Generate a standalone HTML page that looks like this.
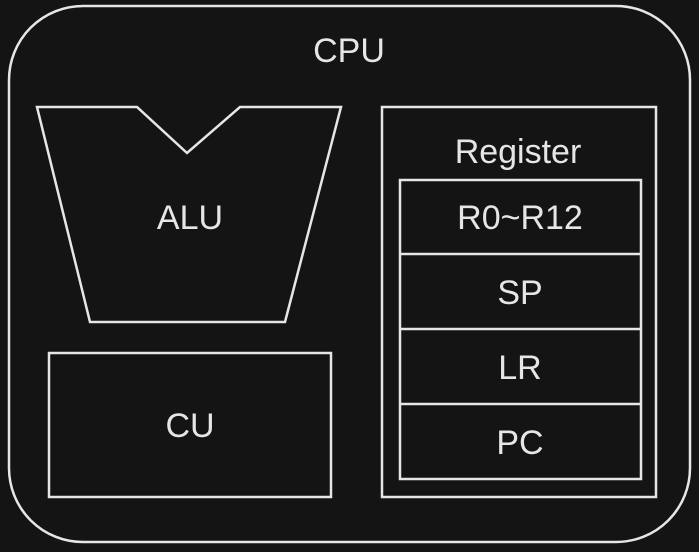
<!DOCTYPE html>
<html><head><style>
html,body{margin:0;padding:0;background:#141414;}
svg{display:block}
text{font-family:"Liberation Sans",sans-serif;font-size:34px;fill:#e6e6e6;text-anchor:middle}
</style></head><body>
<svg width="699" height="552" viewBox="0 0 699 552">
<rect x="0" y="0" width="699" height="552" fill="#141414"/>
<g fill="none" stroke="#e6e6e6" stroke-width="2.5">
<rect x="9" y="6" width="681" height="536" rx="74" ry="74"/>
<polygon points="37,107 137,107 187,153 240,107 341,107 285,322 90,322"/>
<rect x="49" y="353" width="282" height="144"/>
<rect x="382" y="107" width="274" height="390"/>
<rect x="400" y="180" width="241" height="299"/>
<line x1="400" y1="254" x2="641" y2="254"/>
<line x1="400" y1="329" x2="641" y2="329"/>
<line x1="400" y1="404" x2="641" y2="404"/>
</g>
<text x="349" y="62">CPU</text>
<text x="190" y="229">ALU</text>
<text x="190" y="437">CU</text>
<text x="518" y="163">Register</text>
<text x="520" y="229">R0~R12</text>
<text x="520" y="304">SP</text>
<text x="520" y="379">LR</text>
<text x="520" y="454">PC</text>
</svg>
</body></html>
